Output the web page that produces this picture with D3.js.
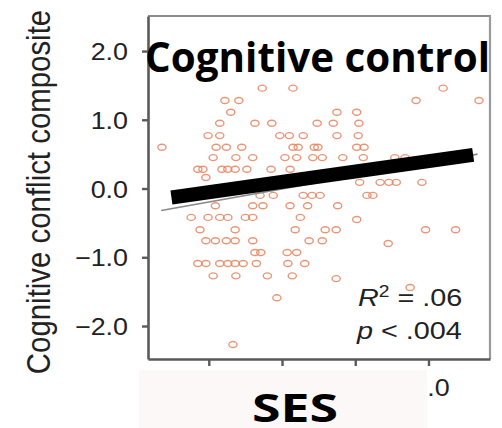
<!DOCTYPE html>
<html><head><meta charset="utf-8">
<script src="https://cdn.jsdelivr.net/npm/d3@7"></script>
<style>html,body{margin:0;padding:0;background:#fff;overflow:hidden}</style>
</head><body><svg id="c" width="502" height="428"></svg>
<script>
// ---- data ----
const sesValues = [
  -0.27, 0.15, 2.20,
  -0.78, -0.59, 1.83, 2.69,
  -0.70, 0.75, 1.02,
  -0.85, -0.37, -0.14, 0.48, 0.70, 1.05,
  -1.01, -0.85, -0.03, 0.10, 0.29, 0.75, 1.04,
  -1.64, -0.90, -0.76, -0.55, 0.15, 0.22, 0.44, 0.49, 1.02, 1.12,
  -0.94, -0.63, -0.40, 0.04, 0.20, 0.42, 0.55, 0.83, 1.11, 1.54, 1.68,
  -1.15, -1.08, -0.82, -0.74, -0.64, -0.48, -0.15, 0.11,
  -1.04,
  1.06, 1.34, 1.46, 1.56, 1.91,
  -0.30, -0.12, 0.29, 0.41, 0.52, 1.16, 1.24,
  -0.91, -0.40, -0.26, 0.11, 0.35, 0.76,
  -1.24, -1.01, -0.85, -0.74, -0.50, -0.40, 0.25,
  1.02,
  -1.12, -0.64, 0.18, 0.59, 0.74, 1.96, 2.37,
  -1.04, -0.91, -0.76, -0.64, -0.40, 0.37, 0.55,
  1.45,
  -0.37, -0.29, 0.07, 0.20,
  -1.15, -1.04, -0.85, -0.74, -0.64, -0.53, -0.35, 0.08, 0.31,
  -0.94, -0.63, -0.20, 0.14,
  0.74, 1.75, -0.07, -0.67
];
const conflictValues = [
  1.46, 1.46, 1.46,
  1.28, 1.28, 1.28, 1.28,
  1.11, 1.11, 1.11,
  0.95, 0.95, 0.95, 0.95, 0.95, 0.95,
  0.77, 0.77, 0.77, 0.77, 0.77, 0.77, 0.77,
  0.60, 0.60, 0.60, 0.60, 0.60, 0.60, 0.60, 0.60, 0.60, 0.60,
  0.45, 0.45, 0.45, 0.45, 0.45, 0.45, 0.45, 0.45, 0.45, 0.45, 0.45,
  0.28, 0.28, 0.28, 0.28, 0.28, 0.28, 0.28, 0.28,
  0.16,
  0.09, 0.09, 0.09, 0.09, 0.09,
  -0.10, -0.10, -0.10, -0.10, -0.10, -0.10, -0.10,
  -0.25, -0.25, -0.25, -0.25, -0.25, -0.25,
  -0.42, -0.42, -0.42, -0.42, -0.42, -0.42, -0.42,
  -0.45,
  -0.60, -0.60, -0.60, -0.60, -0.60, -0.60, -0.60,
  -0.76, -0.76, -0.76, -0.76, -0.76, -0.76, -0.76,
  -0.80,
  -0.93, -0.93, -0.93, -0.93,
  -1.09, -1.09, -1.09, -1.09, -1.09, -1.09, -1.09, -1.09, -1.09,
  -1.27, -1.27, -1.27, -1.27,
  -1.31, -1.44, -1.59, -2.27
];
const xTickValues = [-1, 0, 1, 2];
const yTickValues = [-2, -1, 0, 1, 2];
const fitLineX = [-1.65, 2.67];
const fitLineY = [-0.32, 0.50];
const overlayLineX = [-1.51, 2.61];
const overlayLineY = [-0.13, 0.49];
const titleText = "Cognitive control";
const xLabelText = "SES";
const yLabelText = "Cognitive conflict composite";
const statR2 = ".06";
const statP = ".004";

// ---- drawing ----
const svg = d3.select("#c");
const L = 148, R = 490, T = 16, B = 359;
const x = d3.scaleLinear().domain([-1.83, 2.84]).range([L, R]);
const y = d3.scaleLinear().domain([-2.48, 2.51]).range([B, T]);
const SX = 1.12;
const fontChart = "'Liberation Sans', Arial, Helvetica, sans-serif";
const textColor = "#222";

svg.append("rect").attr("width", 502).attr("height", 428).attr("fill", "#fff");

// frame top/right (lighter)
svg.append("line").attr("x1", L).attr("x2", R + 1).attr("y1", T).attr("y2", T)
  .attr("stroke", "#8c8c8c").attr("stroke-width", 2.2);
svg.append("line").attr("x1", R).attr("x2", R).attr("y1", T).attr("y2", B)
  .attr("stroke", "#9a9a9a").attr("stroke-width", 2.2);

// points
const pts = sesValues.map((v, i) => ({ s: v, c: conflictValues[i] }));
svg.append("g").selectAll("ellipse").data(pts).join("ellipse")
  .attr("cx", d => x(d.s)).attr("cy", d => y(d.c))
  .attr("rx", 4.1).attr("ry", 3.0)
  .attr("fill", "none").attr("stroke", "#e7825f").attr("stroke-width", 1.4)
  .attr("opacity", 0.85);

// thin fit line
svg.append("line")
  .attr("x1", x(fitLineX[0])).attr("y1", y(fitLineY[0]))
  .attr("x2", x(fitLineX[1])).attr("y2", y(fitLineY[1]))
  .attr("stroke", "#8a8a8a").attr("stroke-width", 1.6);

// axes
const yAxis = d3.axisLeft(y).tickValues(yTickValues).tickSize(6).tickSizeOuter(0)
  .tickFormat(d => d3.format(".1f")(d).replace("-", "\u2212"));
const gy = svg.append("g").attr("transform", `translate(${L},0)`).call(yAxis);
gy.select(".domain").attr("stroke", "#5a5a5a").attr("stroke-width", 2.6);
gy.selectAll(".tick line").attr("stroke", "#5a5a5a").attr("stroke-width", 2.4);
gy.selectAll(".tick text").attr("x", 0).attr("dy", null).attr("y", 0)
  .attr("transform", `translate(-20,8.5) scale(${SX},1)`)
  .attr("text-anchor", "end").attr("fill", textColor)
  .style("font-family", fontChart).style("font-size", "24px");

const xAxis = d3.axisBottom(x).tickValues(xTickValues).tickSize(7).tickSizeOuter(0)
  .tickFormat(d => d3.format(".1f")(d).replace("-", "\u2212"));
const gx = svg.append("g").attr("transform", `translate(0,${B})`).call(xAxis);
gx.select(".domain").attr("stroke", "#5a5a5a").attr("stroke-width", 2.6);
gx.selectAll(".tick line").attr("stroke", "#5a5a5a").attr("stroke-width", 2.4);
gx.selectAll(".tick text").attr("y", 0).attr("dy", null)
  .attr("transform", `translate(2,37) scale(${SX},1)`)
  .attr("text-anchor", "middle").attr("fill", textColor)
  .style("font-family", fontChart).style("font-size", "24px");

// y label
svg.append("text")
  .attr("transform", `translate(50,192) scale(${SX},1) rotate(-90)`)
  .attr("text-anchor", "middle").attr("fill", textColor)
  .style("font-family", fontChart).style("font-size", "29.4px")
  .text(yLabelText);

// stats
const st1 = svg.append("text")
  .attr("transform", `translate(358,306) scale(1.2,1)`)
  .attr("fill", textColor).style("font-family", fontChart).style("font-size", "24px");
st1.append("tspan").style("font-style", "italic").text("R");
st1.append("tspan").attr("dy", -9).style("font-size", "16px").text("2");
st1.append("tspan").attr("dy", 9).text(" = " + statR2);
const st2 = svg.append("text")
  .attr("transform", `translate(357,339) scale(1.2,1)`)
  .attr("fill", textColor).style("font-family", fontChart).style("font-size", "24px");
st2.append("tspan").style("font-style", "italic").text("p");
st2.append("tspan").text(" < " + statP);

// overlay: thick black line
svg.append("line")
  .attr("x1", x(overlayLineX[0])).attr("y1", y(overlayLineY[0]))
  .attr("x2", x(overlayLineX[1])).attr("y2", y(overlayLineY[1]))
  .attr("stroke", "#000").attr("stroke-width", 14);

// overlay: title
svg.append("text").attr("x", 145).attr("y", 72)
  .attr("textLength", 345).attr("lengthAdjust", "spacingAndGlyphs")
  .attr("fill", "#000")
  .style("font-family", "'Open Sans', 'Noto Sans', sans-serif")
  .style("font-weight", 700).style("font-size", "42px")
  .text(titleText);

// overlay: box over x labels + SES
svg.append("rect").attr("x", 139).attr("y", 370).attr("width", 288).attr("height", 58)
  .attr("fill", "#fcf8f7");
svg.append("text").attr("x", 252).attr("y", 422)
  .attr("textLength", 86).attr("lengthAdjust", "spacingAndGlyphs")
  .attr("fill", "#000")
  .style("font-family", "'Open Sans', 'Noto Sans', sans-serif")
  .style("font-weight", 700).style("font-size", "39px")
  .text(xLabelText);
</script>
</body></html>
